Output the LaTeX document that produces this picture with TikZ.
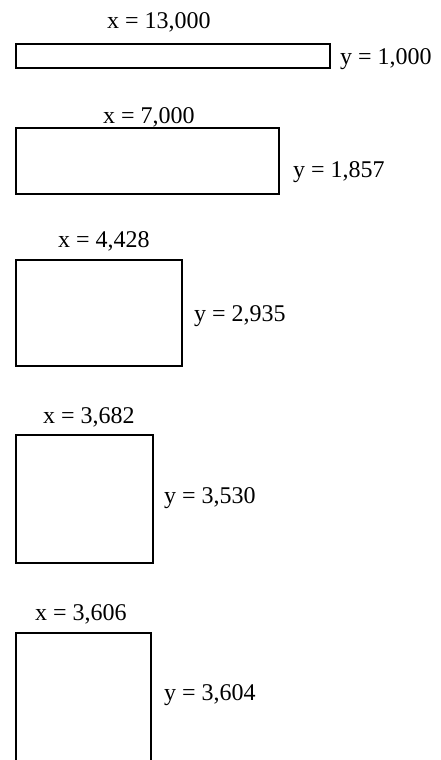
\documentclass[tikz,border=0pt]{standalone}
\usepackage{fontspec}
\setmainfont{Liberation Serif}
\begin{document}
\begin{tikzpicture}[x=1pt, y=-1pt,
    box/.style={draw, line width=2.4pt, inner sep=0pt},
    lab/.style={anchor=base west, inner sep=0pt, font=\fontsize{24}{28}\selectfont}]
      \clip (0, 0) rectangle (441, 760);
      % rectangles
      \node[box, minimum width=314pt, minimum height=24pt] (r1) at (173, 56) {};
      \node[box, minimum width=263pt, minimum height=66pt] (r2) at (147.5, 161) {};
      \node[box, minimum width=166pt, minimum height=106pt] (r3) at (99, 313) {};
      \node[box, minimum width=137pt, minimum height=128pt] (r4) at (84.5, 499) {};
      \node[box, minimum width=135pt, minimum height=150pt] (r5) at (83.5, 708) {};
      % labels
      \node[lab] (x1) at (107, 29) {x = 13,000};
      \node[lab] (y1) at (340, 64) {y = 1,000};
      \node[lab] (x2) at (103, 123) {x = 7,000};
      \node[lab] (y2) at (293, 177) {y = 1,857};
      \node[lab] (x3) at (58, 247) {x = 4,428};
      \node[lab] (y3) at (194, 321) {y = 2,935};
      \node[lab] (x4) at (43, 423) {x = 3,682};
      \node[lab] (y4) at (164, 503) {y = 3,530};
      \node[lab] (x5) at (35, 620) {x = 3,606};
      \node[lab] (y5) at (164, 700) {y = 3,604};
\end{tikzpicture}
\end{document}
